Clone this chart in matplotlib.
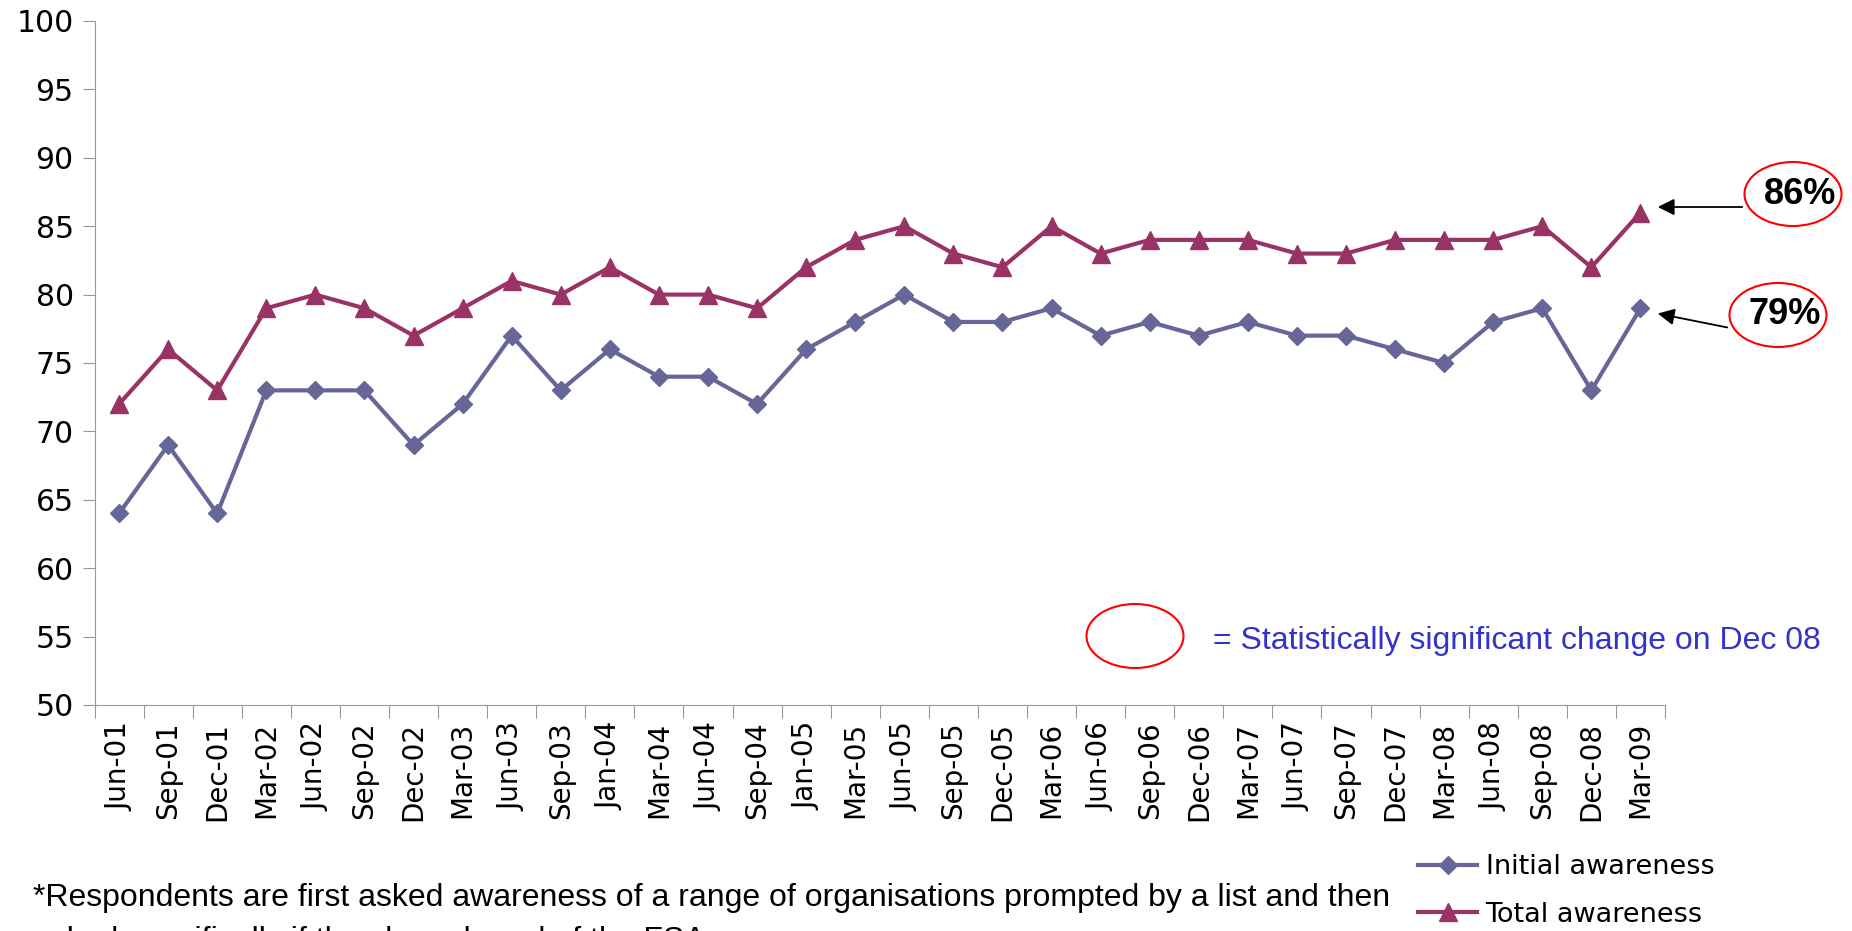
import matplotlib
matplotlib.use("Agg")
import matplotlib.pyplot as plt
from matplotlib.patches import Ellipse
import numpy as np

# survey waves
periods = ['Jun-01', 'Sep-01', 'Dec-01', 'Mar-02', 'Jun-02', 'Sep-02', 'Dec-02', 'Mar-03',
           'Jun-03', 'Sep-03', 'Jan-04', 'Mar-04', 'Jun-04', 'Sep-04', 'Jan-05', 'Mar-05',
           'Jun-05', 'Sep-05', 'Dec-05', 'Mar-06', 'Jun-06', 'Sep-06', 'Dec-06', 'Mar-07',
           'Jun-07', 'Sep-07', 'Dec-07', 'Mar-08', 'Jun-08', 'Sep-08', 'Dec-08', 'Mar-09']

initial_awareness = [64, 69, 64, 73, 73, 73, 69, 72, 77, 73, 76, 74, 74, 72, 76, 78,
                     80, 78, 78, 79, 77, 78, 77, 78, 77, 77, 76, 75, 78, 79, 73, 79]
total_awareness = [72, 76, 73, 79, 80, 79, 77, 79, 81, 80, 82, 80, 80, 79, 82, 84,
                   85, 83, 82, 85, 83, 84, 84, 84, 83, 83, 84, 84, 84, 85, 82, 86]

yticks = [50, 55, 60, 65, 70, 75, 80, 85, 90, 95, 100]

col_initial = '#666699'
col_total = '#993366'

W, H = 1852, 931
fig = plt.figure(figsize=(W / 100, H / 100), dpi=100)
ax = fig.add_axes([94.5 / W, 1 - 705 / H, (1665 - 94.5) / W, (705 - 21) / H])

x = np.arange(len(periods))
l1, = ax.plot(x, initial_awareness, color=col_initial, lw=3, marker='D', ms=9,
              label='Initial awareness', clip_on=False)
l2, = ax.plot(x, total_awareness, color=col_total, lw=3, marker='^', ms=12.5,
              label='Total awareness', clip_on=False)

ax.set_xlim(-0.5, len(periods) - 0.5)
ax.set_ylim(50, 100)
ax.set_yticks(yticks)
ax.tick_params(axis='y', labelsize=21.5, length=9, color='#999999', pad=6)

# excel style: ticks between categories, labels centred
ax.set_xticks(np.arange(len(periods) + 1) - 0.5)
ax.set_xticklabels([])
ax.set_xticks(x, minor=True)
ax.set_xticklabels(periods, minor=True, rotation=90, fontsize=20)
ax.tick_params(axis='x', which='major', length=9, color='#999999')
ax.tick_params(axis='x', which='minor', length=0, pad=12)

for s in ['top', 'right']:
    ax.spines[s].set_visible(False)
for s in ['left', 'bottom']:
    ax.spines[s].set_color('#999999')

# annotations for the last wave (figure pixel coords)
def fx(px):
    return px / W

def fy(py):
    return 1 - py / H

for cx, cy, txt, ax_y, tip_y in [(1793, 194, '86%', 207, 207), (1778, 315, '79%', 328, 313)]:
    fig.patches.append(Ellipse((fx(cx), fy(cy)), 97 / W, 64 / H, transform=fig.transFigure,
                               fill=False, edgecolor='red', lw=1.5))
    fig.text(fx(cx + 7), fy(cy), txt, ha='center', va='center', fontsize=26,
             fontweight='bold', family='Liberation Sans')
    ax.annotate('', xy=(fx(1655), fy(tip_y)), xycoords='figure fraction',
                xytext=(fx(cx - 48), fy(ax_y)), textcoords='figure fraction',
                arrowprops=dict(arrowstyle='-|>', color='black', lw=1.3, mutation_scale=25))

fig.patches.append(Ellipse((fx(1135), fy(636)), 97 / W, 64 / H, transform=fig.transFigure,
                           fill=False, edgecolor='red', lw=1.5))
fig.text(fx(1213), fy(641), '= Statistically significant change on Dec 08', ha='left',
         va='center', fontsize=23, color='#3333CC', family='Liberation Sans')

fig.legend(handles=[l1, l2], loc='center left', bbox_to_anchor=(fx(1407), fy(891)),
           frameon=False, fontsize=19.5, handlelength=2.2, labelspacing=0.8,
           handletextpad=0.3, borderaxespad=0)

fig.text(fx(33), fy(898), '*Respondents are first asked awareness of a range of organisations '
         'prompted by a list and then', ha='left', va='center', fontsize=23,
         family='Liberation Sans')
fig.text(fx(33), fy(941), 'asked specifically if they have heard of the FSA', ha='left',
         va='center', fontsize=23, family='Liberation Sans')

fig.savefig('out.png', dpi=100)
